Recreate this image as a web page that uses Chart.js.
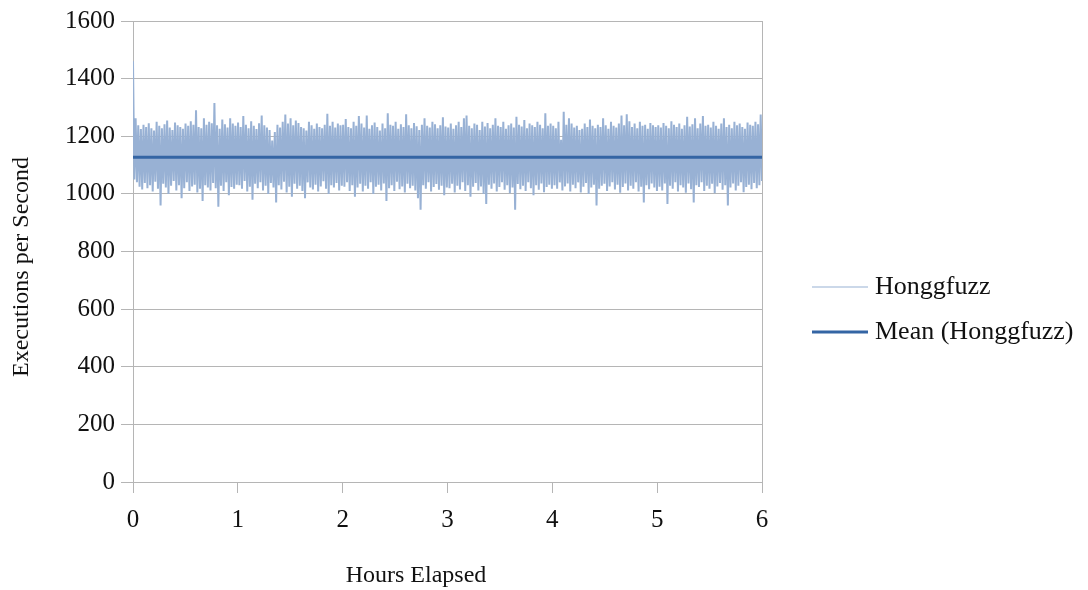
<!DOCTYPE html>
<html>
<head>
<meta charset="utf-8">
<title>Honggfuzz executions per second</title>
<script src="https://cdn.jsdelivr.net/npm/chart.js@4/dist/chart.umd.min.js"></script>
<style>
  html, body { margin: 0; padding: 0; background: #fff; }
  #chart { display: block; }
</style>
</head>
<body>
<canvas id="chart" width="1088" height="590"></canvas>
<script>
// =====================
// Data
// =====================
const hourTicks = [0, 1, 2, 3, 4, 5, 6];
const execTicks = [0, 200, 400, 600, 800, 1000, 1200, 1400, 1600];
const seriesNames = ["Honggfuzz", "Mean (Honggfuzz)"];
const meanExec = 1127;

// upper swings of the sampled rate, 40 per hour
const peaks = [
    1460,1262,1238,1225,1240,1232,1245,1228,1220,1250,1236,1228,1242,1255,1230,1222,1248,1238,1232,1226,
    1244,1236,1252,1240,1290,1232,1228,1262,1240,1250,1245,1315,1238,1226,1258,1242,1230,1262,1244,1236,
    1248,1232,1270,1240,1228,1252,1236,1225,1245,1272,1238,1230,1222,1185,1215,1240,1230,1250,1275,1244,
    1262,1238,1255,1246,1232,1228,1220,1250,1238,1226,1244,1232,1228,1240,1278,1236,1250,1230,1244,1238,
    1240,1260,1232,1228,1250,1236,1270,1244,1230,1272,1226,1238,1248,1232,1220,1244,1228,1280,1240,1236,
    1250,1226,1242,1232,1276,1238,1228,1246,1235,1222,1240,1262,1236,1230,1250,1242,1228,1238,1266,1234,
    1230,1244,1226,1238,1250,1232,1262,1272,1236,1228,1244,1240,1222,1250,1234,1246,1228,1240,1262,1236,
    1232,1250,1226,1238,1244,1230,1268,1240,1234,1256,1228,1244,1238,1232,1250,1240,1228,1280,1236,1244,
    1236,1228,1250,1188,1285,1240,1262,1244,1230,1236,1222,1226,1244,1232,1258,1236,1228,1240,1232,1262,
    1238,1226,1250,1236,1230,1244,1272,1238,1276,1252,1232,1244,1228,1250,1236,1240,1226,1246,1238,1232,
    1238,1230,1246,1236,1228,1252,1240,1232,1244,1226,1238,1268,1234,1242,1262,1228,1244,1270,1236,1240,
    1230,1250,1236,1226,1244,1262,1232,1240,1228,1250,1238,1244,1232,1226,1248,1240,1236,1250,1242,1275
];

// lower swings, same count
const troughs = [
    1050,1040,1025,1015,1038,1020,1030,1008,1042,1018,960,1035,1022,1000,1028,1045,1012,1030,985,1020,
    1040,1010,1026,1032,1005,1018,975,1030,1022,1012,1038,1020,955,1028,1010,1040,995,1024,1018,1032,
    1030,1018,1045,1008,1025,980,1035,1020,1040,1012,1028,1000,1038,1022,970,1030,1015,1042,1005,1025,
    990,1035,1018,1028,1010,985,1040,1022,1015,1032,1008,1026,1044,1018,1000,1030,1022,1038,1012,1028,
    1025,1040,1010,1030,990,1022,1035,1008,1028,1018,1040,1000,1025,1032,1012,1036,975,1020,1030,1010,
    1042,1016,1026,1005,1035,1020,1028,1012,985,945,1030,1018,1040,1008,1024,1034,1014,1028,995,1022,
    1020,1035,1005,1028,1015,1040,1010,1030,990,1025,1038,1012,1026,1000,965,1032,1018,1036,1008,1024,
    1040,1014,1030,1002,1022,945,1034,1016,1028,1010,1040,1020,995,1030,1014,1036,1006,1024,1032,1018,
    1030,1018,1040,1012,1026,1036,1008,1032,1020,1040,1005,1025,1038,1000,1022,1032,960,1018,1028,1035,
    1010,1026,1040,1015,1032,1004,1024,1036,1012,1028,1018,1040,1008,1025,970,1030,1016,1036,1022,1010,
    1025,1012,1036,965,1028,1018,1040,1008,1030,1022,1004,1036,1016,970,1030,1024,1040,1010,1028,1018,
    1035,1002,1026,1038,1014,1030,960,1022,1036,1012,1028,1040,1006,1024,1032,1016,1038,1020,1030,1045
];

// =====================
// Series: peaks and troughs alternate along the 6 hours
// =====================
const samples = [];
peaks.forEach((p, i) => {
    samples.push(p);
    samples.push(troughs[i]);
});
const lastHour = hourTicks[hourTicks.length - 1];
const rateData = samples.map((v, k) => ({ x: k * lastHour / (samples.length - 1), y: v }));
const meanData = [
    { x: hourTicks[0], y: meanExec },
    { x: lastHour, y: meanExec }
];

const gridGray = "#b5b5b5";
const rateColor = "#98b1d4";
const meanColor = "#3465a4";
const serif = "'Liberation Serif', 'Times New Roman', serif";

// =====================
// Legend + axis titles drawn by hand (placed like the original)
// =====================
const sidePlugin = {
    id: "sideText",
    afterDraw(chart) {
        const ctx = chart.ctx;
        const area = chart.chartArea;
        ctx.save();
        ctx.fillStyle = "#111";
        ctx.textBaseline = "middle";

        // legend
        const lx = area.right + 50;
        const rows = [
            { y: 287, color: rateColor, width: 1.2 },
            { y: 332, color: meanColor, width: 3 }
        ];
        rows.forEach((r, i) => {
            ctx.strokeStyle = r.color;
            ctx.lineWidth = r.width;
            ctx.beginPath();
            ctx.moveTo(lx, r.y);
            ctx.lineTo(lx + 56, r.y);
            ctx.stroke();
            ctx.font = "26px " + serif;
            ctx.textAlign = "left";
            ctx.fillText(seriesNames[i], lx + 63, r.y);
        });

        // axis titles
        ctx.font = "24px " + serif;
        ctx.textAlign = "center";
        ctx.fillText("Hours Elapsed", 416, 576);
        ctx.translate(22, 267);
        ctx.rotate(-Math.PI / 2);
        ctx.fillText("Executions per Second", 0, 0);
        ctx.restore();
    }
};

new Chart(document.getElementById("chart"), {
    type: "line",
    data: {
        datasets: [
            {
                label: seriesNames[0],
                data: rateData,
                borderColor: rateColor,
                borderWidth: 2,
                pointRadius: 0,
                tension: 0,
                order: 1
            },
            {
                label: seriesNames[1],
                data: meanData,
                borderColor: meanColor,
                borderWidth: 3,
                pointRadius: 0,
                tension: 0,
                order: 0
            }
        ]
    },
    options: {
        responsive: false,
        animation: false,
        layout: { padding: { left: 0, top: 18, right: 326, bottom: 0 } },
        plugins: {
            legend: { display: false },
            tooltip: { enabled: false }
        },
        scales: {
            x: {
                type: "linear",
                min: hourTicks[0],
                max: lastHour,
                afterBuildTicks: s => { s.ticks = hourTicks.map(v => ({ value: v })); },
                afterFit: s => { s.height = 108; },
                grid: {
                    color: c => (c.tick && c.tick.value === lastHour ? gridGray : "rgba(0,0,0,0)"),
                    tickColor: gridGray,
                    tickLength: 11
                },
                border: { color: gridGray },
                ticks: {
                    color: "#111",
                    padding: 12,
                    maxRotation: 0,
                    font: { family: serif, size: 25 },
                    callback: v => String(v)
                }
            },
            y: {
                min: execTicks[0],
                max: execTicks[execTicks.length - 1],
                afterBuildTicks: s => { s.ticks = execTicks.map(v => ({ value: v })); },
                afterFit: s => { s.width = 133; },
                grid: {
                    color: gridGray,
                    tickColor: gridGray,
                    tickLength: 12
                },
                border: { color: gridGray },
                ticks: {
                    color: "#111",
                    padding: 6,
                    font: { family: serif, size: 25 },
                    callback: v => String(v)
                }
            }
        }
    },
    plugins: [sidePlugin]
});
</script>
</body>
</html>
